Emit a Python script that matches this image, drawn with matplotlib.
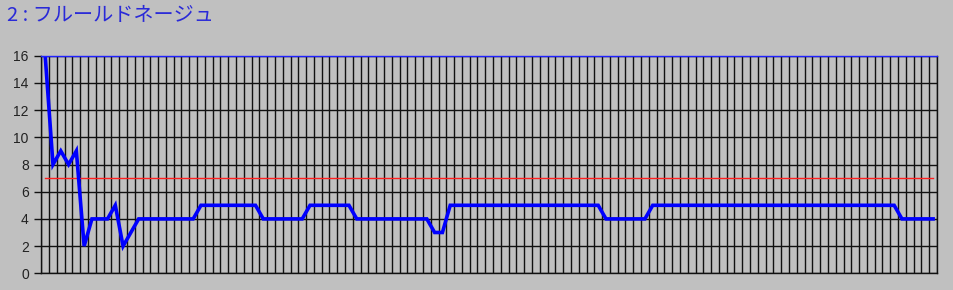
import numpy as np
import matplotlib
matplotlib.use('Agg')
import matplotlib.pyplot as plt

plt.rcParams['font.family'] = ['Noto Sans CJK JP', 'DejaVu Sans']

# values, one per column (115 columns)
values = ([16, 8, 9, 8, 9, 2, 4, 4, 4, 5, 2, 3]
          + [4] * 8            # 12-19
          + [5] * 8            # 20-27
          + [4] * 6            # 28-33
          + [5] * 6            # 34-39
          + [4] * 10           # 40-49
          + [3, 3]             # 50-51
          + [5] * 20           # 52-71
          + [4] * 6            # 72-77
          + [5] * 32           # 78-109
          + [4] * 5)           # 110-114
reference_level = 7
title = '2 : フルールドネージュ'
y_ticks = [0, 2, 4, 6, 8, 10, 12, 14, 16]

x = np.arange(len(values))
bg = '#c0c0c0'

fig = plt.figure(figsize=(9.54, 2.90), dpi=100, facecolor=bg)
ax = fig.add_axes([41.3 / 954, 16.7 / 290, 895.7 / 954, 217.6 / 290])
ax.set_facecolor(bg)

# column boundaries as vertical grid, y ticks as horizontal grid
ax.set_xticks(np.arange(-0.5, len(values), 1))
ax.set_xticklabels([])
ax.tick_params(axis='x', length=0)
ax.set_yticks(y_ticks)
ax.tick_params(axis='y', length=5, width=1.0, color='#111111', pad=4,
               labelsize=10, labelcolor='#222222')
for lbl in ax.get_yticklabels():
    lbl.set_family(['Liberation Sans', 'DejaVu Sans'])
ax.grid(True, color='#111111', linewidth=1.0)
ax.set_axisbelow(True)

ax.set_xlim(-0.5, len(values) - 0.5)
ax.set_ylim(0, 16)

ax.plot([x[0], x[-1]], [reference_level, reference_level], color='#ff2020', linewidth=1.0)
ax.plot(x, values, color='#0000ff', linewidth=2.6, solid_joinstyle='miter', clip_on=True)

for side in ['left', 'bottom', 'right']:
    ax.spines[side].set_color('#111111')
    ax.spines[side].set_linewidth(1.0)
ax.spines['top'].set_color('#2020ff')
ax.spines['top'].set_linewidth(1.0)

fig.text(7 / 954, 1 - 15 / 290, title, color='#2a2ad8', fontsize=14.5,
         va='center', ha='left')

plt.savefig('out.png', dpi=100, facecolor=bg)
